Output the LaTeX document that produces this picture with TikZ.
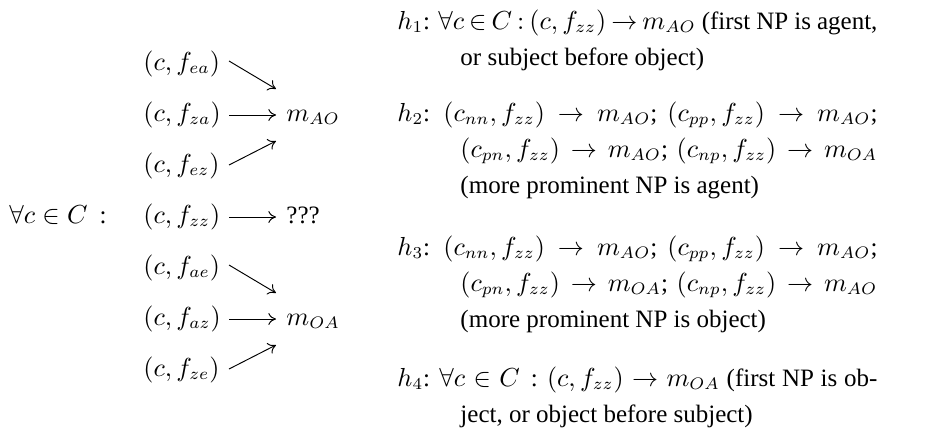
\documentclass[tikz,border=0pt]{standalone}
\usepackage{amsmath}
\usepackage[no-math]{fontspec}
\setmainfont{Liberation Serif}
\usetikzlibrary{arrows.meta,calc}
\begin{document}
\begin{tikzpicture}[x=0.42pt,y=-0.42pt,
  font=\fontsize{10.5}{12.6}\selectfont,
  lbl/.style={inner sep=0pt, anchor=base west},
  arr/.style={-{To[length=3.2pt,width=5pt]}, line width=0.4pt}]
\useasboundingbox (0,0) rectangle (939,434);
% left column
\node[lbl] (fea) at (143,70)  {$(c, f_{ea})$};
\node[lbl] (fza) at (143,121) {$(c, f_{za})$};
\node[lbl] (fez) at (143,172) {$(c, f_{ez})$};
\node[lbl] (fzz) at (143,223) {$(c, f_{zz})$};
\node[lbl] (fae) at (143,274) {$(c, f_{ae})$};
\node[lbl] (faz) at (143,325) {$(c, f_{az})$};
\node[lbl] (fze) at (143,376) {$(c, f_{ze})$};
\node[lbl] (forall) at (9,223) {$\forall c \in C$\hspace{5pt}:};
\node[lbl] (mao) at (286,121) {$m_{AO}$};
\node[lbl] (unk) at (286,223) {???};
\node[lbl] (moa) at (286,325) {$m_{OA}$};
\coordinate (maoU) at ($(mao.base west)+(-10,-32)$);
\coordinate (maoD) at ($(mao.base west)+(-10,20)$);
\coordinate (moaU) at ($(moa.base west)+(-10,-32)$);
\coordinate (moaD) at ($(moa.base west)+(-10,20)$);
\draw[arr] ($(fea.base west)+(86,-9)$) -- (maoU);
\draw[arr] ($(fza.base west)+(86,-6)$) -- ($(mao.base west)+(-10,-6)$);
\draw[arr] ($(fez.base west)+(86,-7)$) -- (maoD);
\draw[arr] ($(fzz.base west)+(86,-6)$) -- ($(unk.base west)+(-10,-6)$);
\draw[arr] ($(fae.base west)+(86,-9)$) -- (moaU);
\draw[arr] ($(faz.base west)+(86,-6)$) -- ($(moa.base west)+(-10,-6)$);
\draw[arr] ($(fze.base west)+(86,-7)$) -- (moaD);
% right column
\node[lbl] (h1a) at (397,29) {\thickmuskip=3.5mu\medmuskip=3mu\makebox[201.6pt][s]{$h_1$: $\forall c \in C : (c, f_{zz}) \to m_{AO}$ (first NP is agent,}};
\node[lbl] (h1b) at (460,65) {or subject before object)};
\node[lbl] (h2a) at (397,121) {\makebox[201.6pt][s]{$h_2$: $(c_{nn}, f_{zz}) \to m_{AO}$; $(c_{pp}, f_{zz}) \to m_{AO}$;}};
\node[lbl] (h2b) at (460,157) {\makebox[175.1pt][s]{$(c_{pn}, f_{zz}) \to m_{AO}$; $(c_{np}, f_{zz}) \to m_{OA}$}};
\node[lbl] (h2c) at (460,193) {(more prominent NP is agent)};
\node[lbl] (h3a) at (397,255) {\makebox[201.6pt][s]{$h_3$: $(c_{nn}, f_{zz}) \to m_{AO}$; $(c_{pp}, f_{zz}) \to m_{AO}$;}};
\node[lbl] (h3b) at (460,291) {\makebox[175.1pt][s]{$(c_{pn}, f_{zz}) \to m_{OA}$; $(c_{np}, f_{zz}) \to m_{AO}$}};
\node[lbl] (h3c) at (460,327) {(more prominent NP is object)};
\node[lbl] (h4a) at (397,386) {\makebox[201.6pt][s]{$h_4$: $\forall c \in C$\, : $(c, f_{zz}) \to m_{OA}$ (first NP is ob-}};
\node[lbl] (h4b) at (460,422) {ject, or object before subject)};
\end{tikzpicture}
\end{document}
